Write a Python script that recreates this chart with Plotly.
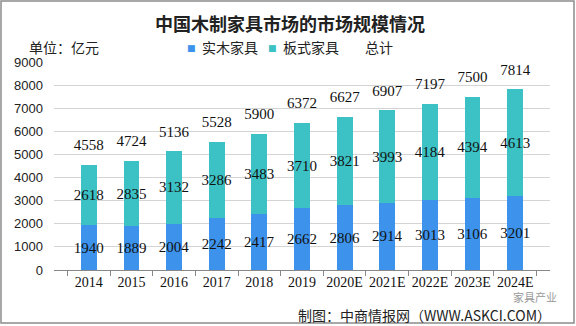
import plotly.graph_objects as go

years = ["2014", "2015", "2016", "2017", "2018", "2019", "2020E", "2021E", "2022E", "2023E", "2024E"]
solid_wood = [1940, 1889, 2004, 2242, 2417, 2662, 2806, 2914, 3013, 3106, 3201]
panel = [2618, 2835, 3132, 3286, 3483, 3710, 3821, 3993, 4184, 4394, 4613]
total = [4558, 4724, 5136, 5528, 5900, 6372, 6627, 6907, 7197, 7500, 7814]
y_ticks = [0, 1000, 2000, 3000, 4000, 5000, 6000, 7000, 8000, 9000]

BLUE = "#3D93EC"
TEAL = "#3CC2C4"
SERIF = "Liberation Serif"
CJK = "Noto Sans CJK SC"

fig = go.Figure()
fig.add_trace(go.Bar(
    x=years, y=solid_wood, name="实木家具", marker=dict(color=BLUE, line=dict(width=0)),
    text=[str(v) for v in solid_wood], textposition="inside", insidetextanchor="middle",
    textangle=0, constraintext="none", cliponaxis=False,
    textfont=dict(family=SERIF, size=15, color="#111111"), showlegend=False,
))
fig.add_trace(go.Bar(
    x=years, y=panel, name="板式家具", marker=dict(color=TEAL, line=dict(width=0)),
    text=[str(v) for v in panel], textposition="inside", insidetextanchor="middle",
    textangle=0, constraintext="none", cliponaxis=False,
    textfont=dict(family=SERIF, size=15, color="#111111"), showlegend=False,
))
fig.add_trace(go.Scatter(
    x=years, y=total, name="总计", mode="markers+text", text=[str(v) for v in total],
    marker=dict(size=16, color="rgba(0,0,0,0)"),
    textposition="top center", textfont=dict(family=SERIF, size=15, color="#111111"),
    showlegend=False, cliponaxis=False, hoverinfo="skip",
))

# plot area: x 54..550, y 62..270
L, R, T, B = 54, 550, 62, 270
W, H = R - L, B - T
def px(x):
    return (x - L) / W
def py(y):
    return (B - y) / H

annotations = [
    dict(text="<b>中国木制家具市场的市场规模情况</b>", x=px(290), y=py(23), xref="paper", yref="paper",
         showarrow=False, xanchor="center", yanchor="middle",
         font=dict(family=CJK, size=18, color="#222222")),
    dict(text="单位：亿元", x=px(27), y=py(47), xref="paper", yref="paper",
         showarrow=False, xanchor="left", yanchor="middle",
         font=dict(family=CJK, size=14, color="#222222")),
    dict(text="■", x=px(191), y=py(48), xref="paper", yref="paper",
         showarrow=False, xanchor="center", yanchor="middle",
         font=dict(family="DejaVu Sans", size=9, color=BLUE)),
    dict(text="实木家具", x=px(200), y=py(47), xref="paper", yref="paper",
         showarrow=False, xanchor="left", yanchor="middle",
         font=dict(family=CJK, size=14, color="#222222")),
    dict(text="■", x=px(272), y=py(48), xref="paper", yref="paper",
         showarrow=False, xanchor="center", yanchor="middle",
         font=dict(family="DejaVu Sans", size=9, color=TEAL)),
    dict(text="板式家具", x=px(281), y=py(47), xref="paper", yref="paper",
         showarrow=False, xanchor="left", yanchor="middle",
         font=dict(family=CJK, size=14, color="#222222")),
    dict(text="总计", x=px(363), y=py(47), xref="paper", yref="paper",
         showarrow=False, xanchor="left", yanchor="middle",
         font=dict(family=CJK, size=14, color="#222222")),
    dict(text="家具产业", x=px(558), y=py(297), xref="paper", yref="paper",
         showarrow=False, xanchor="right", yanchor="middle", borderpad=0,
         font=dict(family=CJK, size=11, color="#9a9a9a")),
    dict(text="制图：中商情报网（WWW.ASKCI.COM）", x=px(552), y=py(315), xref="paper", yref="paper",
         showarrow=False, xanchor="right", yanchor="middle", borderpad=0,
         font=dict(family=CJK, size=14, color="#222222")),
]

shapes = [
    dict(type="rect", xref="paper", yref="paper", x0=px(1), x1=px(574), y0=py(323), y1=py(1),
         line=dict(color="#8c8c8c", width=1.5), fillcolor="rgba(0,0,0,0)", layer="below"),
]

fig.update_layout(
    width=576, height=326,
    margin=dict(l=L, r=576 - R, t=T, b=326 - B, pad=0),
    barmode="stack", bargap=0.63,
    paper_bgcolor="white", plot_bgcolor="white",
    annotations=annotations, shapes=shapes,
    showlegend=False,
    xaxis=dict(
        type="category", tickson="boundaries", ticks="outside", ticklen=5, tickcolor="#888888",
        showline=True, linecolor="#888888", linewidth=1, showgrid=False, tickangle=0,
        ticklabelstandoff=-1,
        tickfont=dict(family=SERIF, size=14, color="#111111"), fixedrange=True,
    ),
    yaxis=dict(
        range=[0, 9000], tickvals=y_ticks, ticktext=[str(v) for v in y_ticks],
        showgrid=True, gridcolor="#d4d4d4", gridwidth=1, zeroline=False, showline=False,
        ticks="", ticklabelstandoff=10,
        tickfont=dict(family="Liberation Sans", size=13, color="#222222"), fixedrange=True,
    ),
)

fig.write_html("out.html")
